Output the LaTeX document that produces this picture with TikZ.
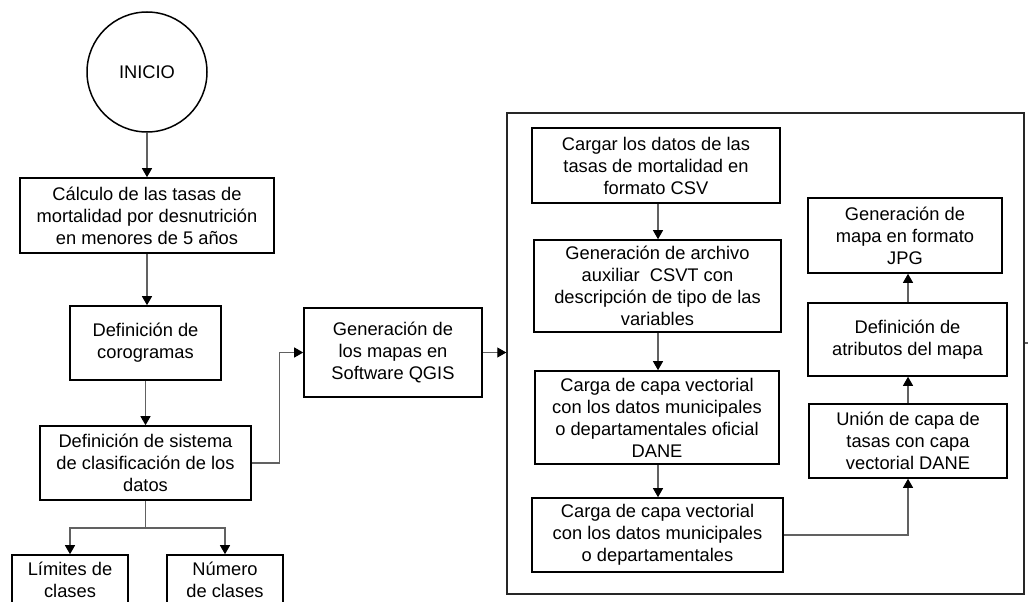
\documentclass[tikz,border=0pt]{standalone}
\usepackage{fontspec}
\setmainfont{Liberation Sans}
\usetikzlibrary{arrows.meta}
\begin{document}
\begin{tikzpicture}[x=1pt,y=-1pt,
  box/.style={draw=black,line width=1.6pt,align=center,inner sep=0pt,
    font=\fontsize{18.3}{22}\selectfont},
  conn/.style={draw=black!62,line width=1.1pt,
    -{Triangle[length=9pt,width=10pt,color=black]}},
  plain/.style={draw=black!62,line width=1.1pt}]
\useasboundingbox (0,0) rectangle (1028,602);
\clip (0,0) rectangle (1028,602);
\fill[white] (0,0) rectangle (1028,602);

% outer frame
\node[draw=black!85,line width=1.4pt,minimum width=517pt,minimum height=481pt,inner sep=0pt] (big) at (765.5,353.5) {};

% left column
\node[draw=black,line width=1.5pt,circle,minimum size=120pt,inner sep=0pt,
  font=\fontsize{18.3}{22}\selectfont] (inicio) at (147,72) {INICIO};
\node[box,minimum width=254pt,minimum height=75pt] (calc) at (147,215.5)
  {Cálculo de las tasas de\\mortalidad por desnutrición\\en menores de 5 años};
\node[box,minimum width=151pt,minimum height=74pt] (coro) at (145.5,343)
  {Definición de\\corogramas};
\node[box,minimum width=211pt,minimum height=74pt] (sist) at (145.5,463)
  {Definición de sistema\\de clasificación de los\\datos};
\node[box,minimum width=116pt,minimum height=50pt] (lim) at (70,580)
  {Límites de\\clases};
\node[box,minimum width=116pt,minimum height=50pt] (num) at (225,580)
  {Número\\de clases};

\node[box,minimum width=178pt,minimum height=89pt] (qgis) at (393,352.5)
  {Generación de\\los mapas en\\Software QGIS};

% inner column
\node[box,minimum width=248pt,minimum height=75pt] (carg) at (656,165.5)
  {Cargar los datos de las\\tasas de mortalidad en\\formato CSV};
\node[box,minimum width=247pt,minimum height=92pt] (csvt) at (657.5,286)
  {Generación de archivo\\auxiliar\ \ CSVT con\\descripción de tipo de las\\variables};
\node[box,minimum width=244pt,minimum height=93pt] (dane) at (657,417.5)
  {Carga de capa vectorial\\con los datos municipales\\o departamentales oficial\\DANE};
\node[box,minimum width=251pt,minimum height=74pt] (capa) at (657.5,535)
  {Carga de capa vectorial\\con los datos municipales\\o departamentales};

% right column
\node[box,minimum width=194pt,minimum height=75pt] (jpg) at (905,235.5)
  {Generación de\\mapa en formato\\JPG};
\node[box,minimum width=199pt,minimum height=73pt] (atrib) at (907.5,339.5)
  {Definición de\\atributos del mapa};
\node[box,minimum width=198pt,minimum height=74pt] (union) at (908,441)
  {Unión de capa de\\tasas con capa\\vectorial DANE};

% connectors
\draw[conn] (inicio.south) -- (inicio.south |- calc.north);
\draw[conn] (calc.south) -- (calc.south |- coro.north);
\draw[conn] (coro.south) -- (coro.south |- sist.north);
\coordinate (split) at (145.5,528);
\draw[plain] (sist.south) -- (split);
\draw[conn] (split) -| (lim.north);
\draw[conn] (split) -| (num.north);
\draw[conn] (sist.east) -- ++(28,0) |- (qgis.west);
\draw[conn] (qgis.east) -- (qgis.east -| big.west);

\draw[conn] (658,0 |- carg.south) -- (658,0 |- csvt.north);
\draw[conn] (658,0 |- csvt.south) -- (658,0 |- dane.north);
\draw[conn] (658,0 |- dane.south) -- (658,0 |- capa.north);

\draw[conn] (capa.east) -| (908,0 |- union.south);
\draw[conn] (908,0 |- union.north) -- (908,0 |- atrib.south);
\draw[conn] (908,0 |- atrib.north) -- (908,0 |- jpg.south);

\coordinate (stub) at (1030,343);
\draw[plain] (big.east |- stub) -- (stub);
\end{tikzpicture}
\end{document}
